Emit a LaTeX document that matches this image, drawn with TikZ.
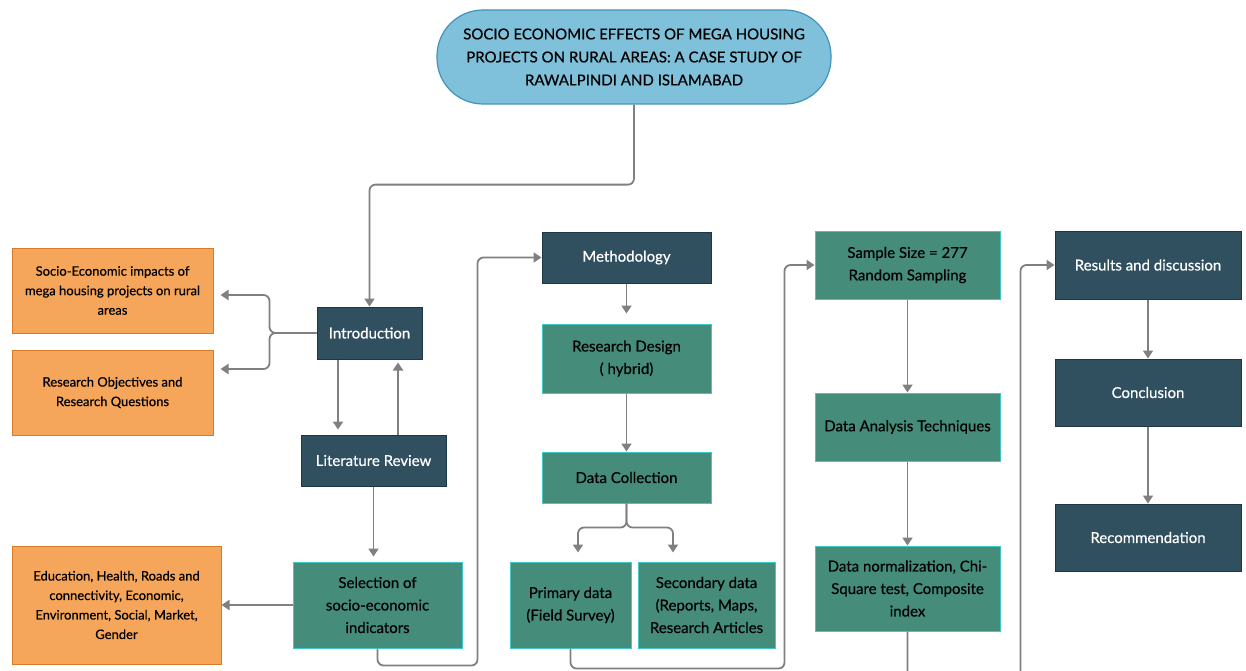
\documentclass[tikz,border=0pt]{standalone}
\usepackage{fontspec}
\setmainfont{Lato}[UprightFeatures={FakeBold=0.5}]
\usetikzlibrary{arrows.meta}

\definecolor{darkfill}{RGB}{48,80,96}
\definecolor{darkline}{RGB}{30,55,70}
\definecolor{tealfill}{RGB}{69,140,122}
\definecolor{tealline}{RGB}{64,200,200}
\definecolor{orangefill}{RGB}{245,166,91}
\definecolor{orangeline}{RGB}{214,124,40}
\definecolor{titlefill}{RGB}{127,193,218}
\definecolor{titleline}{RGB}{66,146,186}
\definecolor{arrgray}{RGB}{128,128,128}

\begin{document}
\begin{tikzpicture}[
    x=1pt, y=-1pt,
    titlebox/.style={
        draw=titleline,
        fill=titlefill,
        line width=1.2pt,
        rounded corners=46pt,
        minimum width=394pt,
        minimum height=94pt,
        align=center,
        font=\fontsize{15}{23}\selectfont
    },
    darkbox/.style={
        draw=darkline,
        fill=darkfill,
        line width=1pt,
        text=white,
        align=center,
        inner sep=0pt,
        font=\fontsize{15}{22}\selectfont
    },
    tealbox/.style={
        draw=tealline,
        fill=tealfill,
        line width=1pt,
        align=center,
        inner sep=0pt,
        font=\fontsize{15}{22.5}\selectfont
    },
    orangebox/.style={
        draw=orangeline,
        fill=orangefill,
        line width=1pt,
        align=center,
        inner sep=0pt,
        font=\fontsize{13}{19.5}\selectfont
    },
    arr/.style={
        -{Triangle[width=10pt,length=8pt]},
        draw=arrgray,
        line width=1.8pt,
        rounded corners=6pt
    }
]
    \useasboundingbox (0,0) rectangle (1246,671);

    \node[titlebox] (title) at (634,57)
        {SOCIO ECONOMIC EFFECTS OF MEGA HOUSING\\PROJECTS ON RURAL AREAS: A CASE STUDY OF\\RAWALPINDI AND ISLAMABAD};

    % left column
    \node[darkbox, minimum width=105pt, minimum height=52pt] (intro) at (369.5,333) {Introduction};
    \node[orangebox, minimum width=201pt, minimum height=85pt] (aims) at (112.5,290.5)
        {Socio-Economic impacts of\\mega housing projects on rural\\areas};
    \node[orangebox, minimum width=201pt, minimum height=85pt] (objectives) at (112.5,392.5)
        {Research Objectives and\\Research Questions};
    \node[darkbox, minimum width=145pt, minimum height=51pt] (litreview) at (373.5,460.5) {Literature Review};
    \node[tealbox, minimum width=169pt, minimum height=86pt] (selection) at (377.5,605)
        {Selection of\\socio-economic\\indicators};
    \node[orangebox, minimum width=209pt, minimum height=118pt] (indicators) at (116.5,605)
        {Education, Health, Roads and\\connectivity, Economic,\\Environment, Social, Market,\\Gender};

    % methodology column
    \node[darkbox, minimum width=169pt, minimum height=51pt] (method) at (626.5,257.5) {Methodology};
    \node[tealbox, minimum width=169pt, minimum height=69pt] (design) at (626.5,358.5)
        {Research Design\\( hybrid)};
    \node[tealbox, minimum width=169pt, minimum height=51pt] (collection) at (626.5,477.5) {Data Collection};
    \node[tealbox, minimum width=121pt, minimum height=86pt] (primary) at (570.5,605)
        {Primary data\\(Field Survey)};
    \node[tealbox, minimum width=137pt, minimum height=86pt] (secondary) at (706.5,605)
        {Secondary data\\(Reports, Maps,\\Research Articles};

    % analysis column
    \node[tealbox, minimum width=185pt, minimum height=68pt] (sample) at (907.5,265)
        {Sample Size = 277\\Random Sampling};
    \node[tealbox, minimum width=185pt, minimum height=68pt] (analysis) at (907.5,427)
        {Data Analysis Techniques};
    \node[tealbox, minimum width=185pt, minimum height=85pt] (normal) at (907.5,588.5)
        {Data normalization, Chi-\\Square test, Composite\\index};

    % results column
    \node[darkbox, minimum width=186pt, minimum height=68pt] (results) at (1148,265) {Results and discussion};
    \node[darkbox, minimum width=186pt, minimum height=67pt] (conclusion) at (1148,392.5) {Conclusion};
    \node[darkbox, minimum width=186pt, minimum height=67pt] (recommend) at (1148,537.5) {Recommendation};

    % connectors
    \draw[arr] (title.south) -- ++(0,80) -| (intro.north);
    \draw[arr, shorten >=7pt] (intro.west) -- ++(-47,0) |- ([yshift=-4.5pt]aims.east);
    \draw[arr, shorten >=7pt] (intro.west) -- ++(-47,0) |- ([yshift=23.5pt]objectives.east);
    \draw[arr, shorten >=5pt] ([xshift=-31.5pt]intro.south) -- ([xshift=-31.5pt]intro.south |- litreview.north);
    \draw[arr, shorten >=3pt] ([xshift=28.5pt]intro.south |- litreview.north) -- ([xshift=28.5pt]intro.south);
    \draw[arr, shorten >=5pt] (litreview.south) -- (litreview.south |- selection.north);
    \draw[arr] (selection.west) -- (indicators.east);
    \draw[arr] (selection.south) -- ++(0,17) -| ([xshift=-64pt]method.west) -- (method.west);

    \draw[arr, shorten >=10pt] (method.south) -- (design.north);
    \draw[arr] (design.south) -- (collection.north);
    \draw[arr, shorten >=9pt] (collection.south) -- ++(0,24) -| ([xshift=7.5pt]primary.north);
    \draw[arr, shorten >=9pt] (collection.south) -- ++(0,24) -| ([xshift=-33.5pt]secondary.north);
    \draw[arr] (primary.south) -- ++(0,20) -| ([xshift=-30pt]sample.west) -- (sample.west);

    \draw[arr] (sample.south) -- (analysis.north);
    \draw[arr] (analysis.south) -- (normal.north);
    \draw[arr] (normal.south) -- ++(0,60) -| ([xshift=-34pt]results.west) -- (results.west);

    \draw[arr] (results.south) -- (conclusion.north);
    \draw[arr] (conclusion.south) -- (recommend.north);

\end{tikzpicture}
\end{document}
